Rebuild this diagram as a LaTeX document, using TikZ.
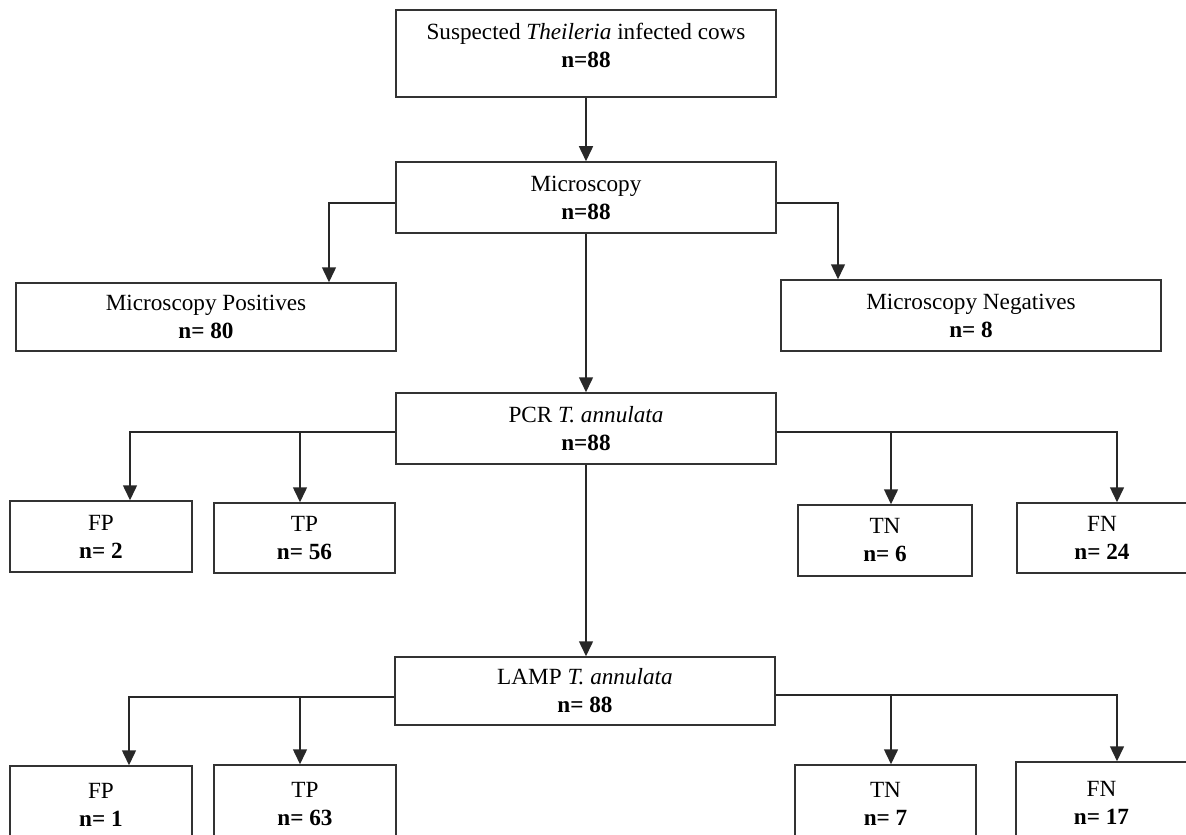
\documentclass[tikz,border=0pt]{standalone}
\usepackage{fontspec}
\setmainfont{Liberation Serif}
\usetikzlibrary{arrows.meta}

\tikzset{
  box/.style={draw={rgb, 255:red, 51; green, 51; blue, 51}, line width=0.75pt, align=center, inner sep=0pt, font=\fontsize{11.6}{14}\selectfont},
  bigbox/.style={box, minimum width=190pt, minimum height=35.5pt},
  smallbox/.style={box, minimum width=90.5pt, minimum height=35.5pt},
  arr/.style={draw={rgb, 255:red, 40; green, 40; blue, 40}, line width=0.75pt, -{Triangle[width=7pt,length=7.5pt]}}
}

\begin{document}
\begin{tikzpicture}[x=0.5pt,y=0.5pt,yscale=-1,xscale=1]
\useasboundingbox (0,0) rectangle (1186,834);

% Boxes
\node [bigbox, minimum height=43.5pt] (cows) at (586,53.5) {\raisebox{3pt}[\height][\depth]{\begin{tabular}{@{}c@{}}Suspected \textit{Theileria} infected cows\\ \textbf{n=88}\end{tabular}}};
\node [bigbox] (micro) at (586,197.5) {Microscopy\\ \textbf{n=88}};
\node [bigbox, minimum height=34pt] (mpos) at (206,317) {Microscopy Positives\\ \textbf{n= 80}};
\node [bigbox] (mneg) at (971,315.5) {Microscopy Negatives\\ \textbf{n= 8}};
\node [bigbox] (pcr) at (586,428.5) {PCR \textit{T. annulata}\\ \textbf{n=88}};
\node [bigbox, minimum height=34pt] (lamp) at (585,691) {LAMP \textit{T. annulata}\\ \textbf{n= 88}};

% PCR results
\node [smallbox, minimum width=91pt] (pcrfp) at (101,536.5) {FP\\ \textbf{n= 2}};
\node [smallbox, minimum height=35pt] (pcrtp) at (304.5,538) {TP\\ \textbf{n= 56}};
\node [smallbox, minimum width=87pt] (pcrtn) at (885,540.5) {TN\\ \textbf{n= 6}};
\node [smallbox, minimum width=85pt, minimum height=35pt] (pcrfn) at (1102,538) {FN\\ \textbf{n= 24}};

% LAMP results (cut by the lower edge)
\node [smallbox, minimum width=91pt, minimum height=39pt] (lampfp) at (101,805) {FP\\ \textbf{n= 1}};
\node [smallbox, minimum width=91pt, minimum height=39pt] (lamptp) at (305,804) {TP\\ \textbf{n= 63}};
\node [smallbox, minimum height=39pt] (lamptn) at (885.5,804) {TN\\ \textbf{n= 7}};
\node [smallbox, minimum width=85.5pt, minimum height=41pt] (lampfn) at (1101.5,803) {FN\\ \textbf{n= 17}};

% Branch points
\coordinate (ml) at (329,203);
\coordinate (mr) at (838,203);
\coordinate (pl) at (130,432);
\coordinate (pl2) at (300,432);
\coordinate (pr) at (1117,432);
\coordinate (pr2) at (891,432);
\coordinate (ll) at (129,697);
\coordinate (ll2) at (300,697);
\coordinate (lr) at (1117,695);
\coordinate (lr2) at (891,695);

% Connectors
\draw [arr] (cows.south) -- (micro.north);
\draw [arr] (micro.west |- ml) -| (ml |- mpos.north);
\draw [arr] (micro.east |- mr) -| (mr |- mneg.north);
\draw [arr] (micro.south) -- (pcr.north);
\draw [arr] (pcr.south) -- (pcr.south |- lamp.north);

\draw [arr] (pcr.west |- pl) -| (pl |- pcrfp.north);
\draw [arr] (pl2) -- (pl2 |- pcrtp.north);
\draw [arr] (pcr.east |- pr) -| (pr |- pcrfn.north);
\draw [arr] (pr2) -- (pr2 |- pcrtn.north);

\draw [arr] (lamp.west |- ll) -| (ll |- lampfp.north);
\draw [arr] (ll2) -- (ll2 |- lamptp.north);
\draw [arr] (lamp.east |- lr) -| (lr |- lampfn.north);
\draw [arr] (lr2) -- (lr2 |- lamptn.north);

\end{tikzpicture}
\end{document}
